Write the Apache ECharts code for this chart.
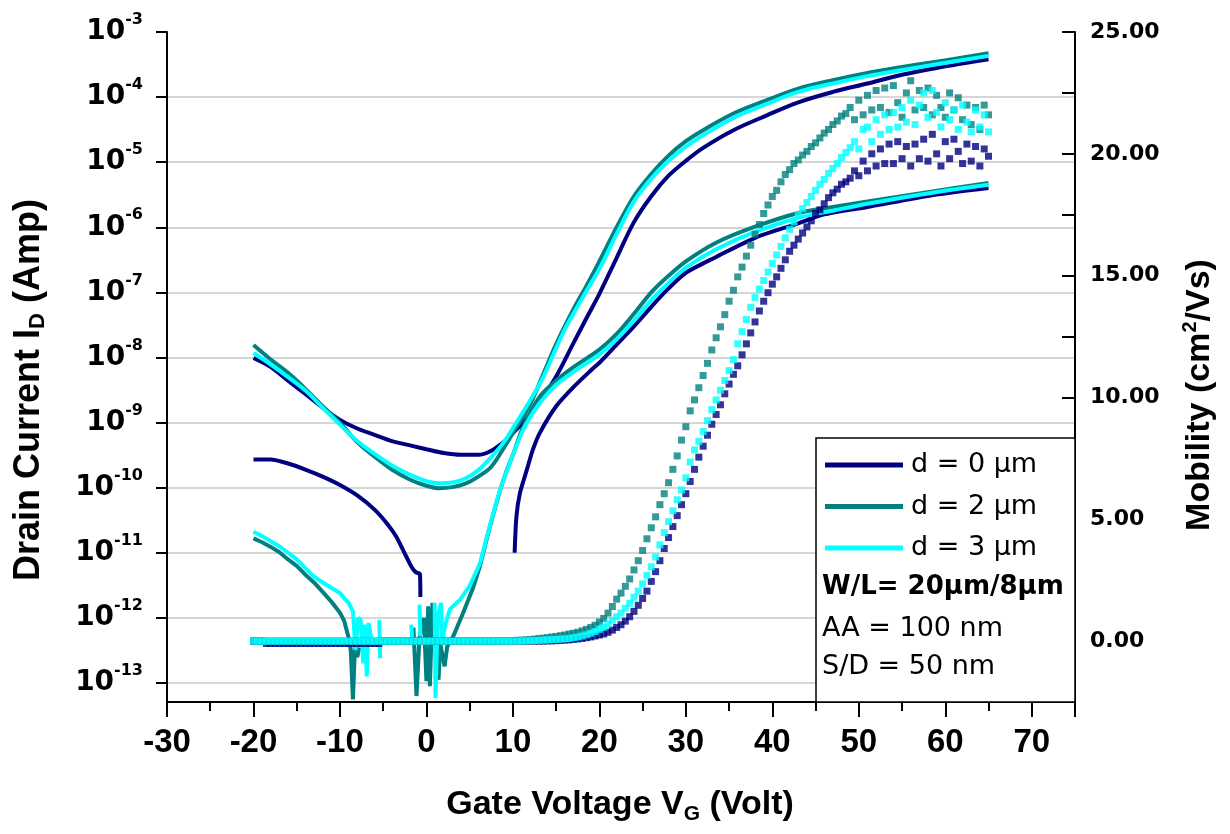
<!DOCTYPE html>
<html><head><meta charset="utf-8">
<script src="https://cdn.jsdelivr.net/npm/echarts@6/dist/echarts.min.js"></script>
<style>html,body{margin:0;padding:0;background:#fff}#c{width:1230px;height:834px}</style>
</head><body><div id="c"></div>
<script>
// ---------------- data ----------------
const SERIES_NAMES = ['d = 0 μm', 'd = 2 μm', 'd = 3 μm'];
const X_TICK_LABELS = [-30, -20, -10, 0, 10, 20, 30, 40, 50, 60, 70];
const Y_TICKS = [1e-13, 1e-12, 1e-11, 1e-10, 1e-9, 1e-8, 1e-7, 1e-6, 1e-5, 1e-4, 1e-3];
const Y_MIN = 5.1e-14, Y_MAX = 1e-3;       // drain current axis (log)
const MU_MIN = -2.5, MU_MAX = 25;           // mobility axis
const NOISE_END = 6.2;                      // VG where the noisy low-VD part ends

// high-VD transfer curves (upper)
const VG_UP0 = [-20,-18,-16,-14,-12,-10,-8,-6,-4,-2,0,2,4,6,7.5,9,10,11.5,13,15,17,18.5,20,22,24,26,28,30,32,35.5,39.3,43,47,51,55,59,65];
const ID_UP0 = [9.8e-9,7.1e-9,4.4e-9,2.75e-9,1.7e-9,1.1e-9,8.1e-10,6.5e-10,5.2e-10,4.5e-10,3.9e-10,3.4e-10,3.2e-10,3.2e-10,3.7e-10,5.1e-10,6.9e-10,1.12e-9,2.0e-9,5.1e-9,1.66e-8,4.0e-8,9.5e-8,3.4e-7,1.2e-6,3.0e-6,6.2e-6,1.05e-5,1.66e-5,3.1e-5,5.2e-5,8.3e-5,1.2e-4,1.62e-4,2.2e-4,2.8e-4,3.8e-4];
const VG_UP2 = [-20,-18,-16,-14,-12,-10,-8,-6,-4,-2,0,1.5,3,4.5,6,7.5,9,10.5,12,13.5,15,17,18.5,20,22,24,26,28,30,32,35.5,39.3,43,47,51,55,59,65];
const ID_UP2 = [1.55e-8,9.3e-9,5.8e-9,3.3e-9,1.78e-9,1.0e-9,5.0e-10,3.0e-10,1.9e-10,1.35e-10,1.07e-10,9.8e-11,1.02e-10,1.15e-10,1.48e-10,2.1e-10,4.2e-10,8.9e-10,1.9e-9,5.5e-9,1.6e-8,5.5e-8,1.26e-7,3.0e-7,1.0e-6,3.0e-6,6.6e-6,1.26e-5,2.1e-5,3.1e-5,5.6e-5,8.9e-5,1.35e-4,1.82e-4,2.35e-4,2.9e-4,3.5e-4,4.7e-4];
const VG_UP3 = [-20,-18,-16,-14,-12,-10,-8,-6,-4,-2,0,1.5,3,4.5,6,7.5,9,10.5,12,13.5,15,16,17,18.5,20,22,24,26,28,30,32,35.5,39.3,43,47,51,55,59,65];
const ID_UP3 = [1.17e-8,7.8e-9,5.0e-9,3.1e-9,1.7e-9,9.3e-10,5.2e-10,3.3e-10,2.2e-10,1.6e-10,1.26e-10,1.17e-10,1.2e-10,1.38e-10,1.86e-10,2.95e-10,5.1e-10,1.05e-9,2.2e-9,5.0e-9,1.4e-8,2.7e-8,4.7e-8,1.05e-7,2.3e-7,7.9e-7,2.5e-6,5.6e-6,1.05e-5,1.74e-5,2.6e-5,4.8e-5,7.8e-5,1.2e-4,1.62e-4,2.1e-4,2.6e-4,3.2e-4,4.3e-4];

// low-VD transfer curves (lower), null = gap
const VG_LO0 = [-20,-18,-16,-14,-12,-10,-8,-6,-4.5,-3.5,-2.7,-1.7,-1.2,-0.75,-0.7,0,10.2,10.4,10.8,11.6,12.3,13.1,15,17,19,20,22,24,26,28,30,33.5,38,43,46,51,58.5,65];
const ID_LO0 = [2.7e-10,2.7e-10,2.35e-10,1.9e-10,1.48e-10,1.1e-10,7.6e-11,4.6e-11,2.75e-11,1.78e-11,1.1e-11,6.0e-12,5.0e-12,4.7e-12,2.1e-12,null,1.0e-11,3.5e-11,8.1e-11,1.86e-10,3.8e-10,6.9e-10,1.78e-9,3.5e-9,6.3e-9,8.3e-9,1.58e-8,3.0e-8,6.0e-8,1.15e-7,2.0e-7,3.5e-7,6.9e-7,1.15e-6,1.58e-6,2.05e-6,3.1e-6,4.0e-6];
const VG_LO2 = [-20,-19,-18,-17,-16,-15,-14,-13,-12,-11,-10,-9.5,-9,-8.75,-8.5,-8.25,-8,-7.75,-7.5,-1.5,-1.15,-0.8,-0.3,0,0.2,0.4,0.7,1.4,1.6,2.1,2.4,3.1,4.25,5.4,6.2,7.3,8.5,9.3,10,11.2,13.1,15,17,20,22,24,26,28,30,33.5,38,43,47,51,58.5,65];
const ID_LO2 = [1.66e-11,1.45e-11,1.23e-11,1.02e-11,7.9e-12,6.3e-12,4.6e-12,3.5e-12,2.5e-12,1.78e-12,1.2e-12,8.9e-13,5.0e-13,3.2e-13,5.6e-14,4.0e-13,2.5e-13,3.5e-13,null,7.1e-13,6.3e-14,5.0e-13,1.0e-12,1.07e-13,1.5e-12,8.9e-14,1.7e-12,1.12e-13,4.0e-13,1.8e-13,3.6e-13,5.2e-13,1.2e-12,2.9e-12,6.3e-12,2.4e-11,8.9e-11,1.86e-10,3.2e-10,8.7e-10,2.5e-9,4.4e-9,7.1e-9,1.32e-8,2.3e-8,4.7e-8,1.0e-7,1.8e-7,3.0e-7,5.8e-7,1.02e-6,1.66e-6,2.05e-6,2.5e-6,3.55e-6,4.8e-6];
const VG_LO3 = [-20,-19,-18,-17,-16,-15,-14,-13,-12,-11,-10,-9.5,-9,-8.5,-8.2,-7.9,-7.6,-7.3,-7.1,-6.9,-6.7,-6.4,-6,-5.45,-5.35,-5.2,-1.75,-1.65,-1.5,-0.8,-0.7,-0.5,0.95,1.05,1.3,1.7,1.8,2.2,2.7,3.9,5.0,6.2,7.3,8.5,9.6,11.2,13.1,15,17,20,22,24,26,28,30,33.5,38,43,47,51,58.5,65];
const ID_LO3 = [2.1e-11,1.8e-11,1.5e-11,1.26e-11,1.0e-11,7.9e-12,5.8e-12,4.3e-12,3.5e-12,2.9e-12,2.4e-12,2.0e-12,1.7e-12,1.26e-12,3.2e-13,1.0e-12,9.3e-13,2.0e-13,7.9e-13,1.26e-13,8.3e-13,5.0e-13,null,9.3e-13,2.4e-13,null,7.9e-13,4.7e-13,null,1.6e-12,5.2e-13,null,1.7e-12,5.9e-14,1.0e-12,1.7e-12,4.2e-13,8.0e-13,1.35e-12,1.9e-12,3.1e-12,6.9e-12,2.5e-11,9.1e-11,2.3e-10,7.8e-10,2.0e-9,3.8e-9,6.0e-9,1.12e-8,1.9e-8,3.7e-8,7.6e-8,1.4e-7,2.4e-7,4.6e-7,8.5e-7,1.4e-6,1.8e-6,2.3e-6,3.4e-6,4.5e-6];

// mobility (cm^2/Vs)
const MOB_VG = [-20,-19.5,-19,-18.5,-18,-17.5,-17,-16.5,-16,-15.5,
-15,-14.5,-14,-13.5,-13,-12.5,-12,-11.5,-11,-10.5,
-10,-9.5,-9,-8.5,-8,-7.5,-7,-6.5,-6,-5.5,
-5,-4.5,-4,-3.5,-3,-2.5,-2,-1.5,-1,-0.5,
0,0.5,1,1.5,2,2.5,3,3.5,4,4.5,
5,5.5,6,6.5,7,7.5,8,8.5,9,9.5,
10,10.5,11,11.5,12,12.5,13,13.5,14,14.5,
15,15.5,16,16.5,17,17.5,18,18.5,19,19.5,
20,20.5,21,21.5,22,22.5,23,23.5,24,24.5,
25,25.5,26,26.5,27,27.5,28,28.5,29,29.5,
30,30.5,31,31.5,32,32.5,33,33.5,34,34.5,
35,35.5,36,36.5,37,37.5,38,38.5,39,39.5,
40,40.5,41,41.5,42,42.5,43,43.5,44,44.5,
45,45.5,46,46.5,47,47.5,48,48.5,49,49.5,
50,50.5,51,51.5,52,52.5,53,53.5,54,54.5,
55,55.5,56,56.5,57,57.5,58,58.5,59,59.5,
60,60.5,61,61.5,62,62.5,63,63.5,64,64.5,
65];
const MOB_D0 = [0,0,0,-0.1,-0.1,-0.1,-0.1,-0.1,-0.1,-0.1,
-0.1,-0.1,-0.1,-0.1,-0.1,-0.1,-0.1,-0.1,-0.1,-0.1,
-0.1,-0.1,-0.1,-0.1,-0.1,-0.1,-0.1,-0.1,-0.1,-0.1,
0,0,0,0,0,0,0,0,0,0,
0,0,0,0,0,0,0,0,0,0,
0,0,0,0,0,0,0,0,0,0,
0,0,0,0,0,0,0,0,0.01,0.01,
0.02,0.03,0.04,0.05,0.07,0.09,0.11,0.14,0.17,0.21,
0.25,0.29,0.36,0.45,0.56,0.67,0.82,1.0,1.22,1.47,
1.75,2.05,2.45,2.85,3.3,3.8,4.25,4.7,5.15,5.6,
6.05,6.55,7.05,7.55,8.0,8.45,8.9,9.3,9.7,10.15,
10.55,10.95,11.3,11.75,12.2,12.65,13.1,13.55,13.95,14.3,
14.65,14.95,15.3,15.65,16.0,16.25,16.5,16.75,17.0,17.25,
17.55,17.7,17.95,18.2,18.4,18.55,18.75,18.85,19.0,19.3,
19.1,19.7,19.3,20.0,19.5,20.2,19.6,20.4,19.6,20.5,
19.8,20.3,19.5,20.4,19.8,20.6,19.7,20.8,20.0,19.5,
20.5,19.8,20.6,20.1,19.6,20.4,19.7,20.3,19.5,20.2,
19.9];
const MOB_D2 = [0,0,0,0,0,0,0,0,0,0,
0,0,0,0,0,0,0,0,0,0,
0,0,0,0,0,0,0,0,0,0,
0,0,0,0,0,0,0,0,0,0,
0,0,0,0,0,0,0,0,0,0,
0,0,0,0,0,0,0,0,0,0,
0.02,0.03,0.04,0.05,0.06,0.08,0.1,0.12,0.14,0.17,
0.19,0.22,0.25,0.29,0.32,0.36,0.42,0.48,0.56,0.65,
0.78,0.93,1.15,1.42,1.72,1.97,2.25,2.55,2.92,3.3,
3.72,4.2,4.65,5.1,5.6,6.05,6.5,7.05,7.6,8.25,
8.8,9.45,9.9,10.4,10.9,11.4,11.95,12.45,12.9,13.4,
13.95,14.4,14.95,15.35,15.8,16.25,16.7,17.1,17.55,17.9,
18.25,18.5,18.85,19.15,19.35,19.6,19.75,19.95,20.1,20.3,
20.45,20.65,20.85,21.0,21.2,21.35,21.55,21.65,21.9,21.4,
22.2,21.6,22.4,21.8,22.6,21.9,22.7,21.7,22.8,22.1,
21.5,22.5,23.0,21.8,22.6,21.9,22.7,21.6,22.4,21.9,
21.5,22.5,21.8,22.3,21.4,22.0,21.2,21.9,21.0,22.0,
21.6];
const MOB_D3 = [0,0,0,0,0,0,0,0,0,0,
0,0,0,0,0,0,0,0,0,0,
0,0,0,0,0,0,0,0,0,0,
0,0,0,0,0,0,0,0,0,0,
0,0,0,0,0,0,0,0,0,0,
0,0,0,0,0,0,0,0,0,0,
0,0,0.01,0.01,0.02,0.02,0.03,0.04,0.05,0.06,
0.07,0.08,0.09,0.11,0.14,0.17,0.21,0.26,0.32,0.39,
0.48,0.57,0.7,0.85,1.0,1.15,1.35,1.55,1.8,2.05,
2.35,2.7,3.05,3.45,3.95,4.45,4.9,5.35,5.8,6.2,
6.7,7.35,7.85,8.2,8.6,9.05,9.5,9.9,10.3,10.7,
11.1,11.55,12.2,12.7,13.2,13.7,14.1,14.45,14.8,15.15,
15.5,15.85,16.2,16.55,16.9,17.2,17.5,17.75,18.0,18.25,
18.5,18.75,18.95,19.2,19.4,19.6,19.85,20.05,20.25,20.5,
20.2,21.0,21.1,20.5,21.4,20.8,21.6,21.0,21.7,21.1,
21.9,21.3,22.2,21.2,22.0,22.5,21.5,22.6,21.7,21.1,
22.1,21.4,21.8,21.0,22.0,21.3,20.9,21.8,21.1,21.6,
20.9];

// ---------------- chart ----------------
const C0 = '#000080', C2 = '#008080', C3 = '#00FFFF';
const FONT = 'DejaVu Sans';
const pairs = (xs, ys) => xs.map((x, i) => [x, ys[i]]);
const part = (xs, ys, test) => pairs(xs, ys).filter(p => test(p[0]));

function lineSeries(name, color, data, smooth) {
  return { name, type: 'line', z: 3, xAxisIndex: 0, yAxisIndex: 0, data,
    showSymbol: false, symbol: 'none', smooth: smooth, connectNulls: false,
    lineStyle: { color, width: 4 }, itemStyle: { color }, emphasis: { disabled: true }, silent: true };
}
function mobSeries(name, color, ys) {
  return { name, type: 'scatter', z: 3, xAxisIndex: 0, yAxisIndex: 1, data: pairs(MOB_VG, ys),
    symbol: 'rect', symbolSize: 7, itemStyle: { color }, emphasis: { disabled: true }, silent: true };
}
const noisy = v => v <= NOISE_END, clean = v => v >= NOISE_END;

const chart = echarts.init(document.getElementById('c'));
const option = {
  animation: false,
  backgroundColor: '#fff',
  textStyle: { fontFamily: FONT },
  grid: { left: 167, right: 155, top: 32, bottom: 132, containLabel: false },
  legend: {
    orient: 'vertical', left: 820, top: 445, z: 6, itemWidth: 78, itemHeight: 5, itemGap: 11.5,
    icon: 'rect', selectedMode: false, data: SERIES_NAMES,
    textStyle: { fontFamily: FONT, fontSize: 27, color: '#000', lineHeight: 30, padding: [0, 0, 0, 3] }
  },
  xAxis: [
    { type: 'value', min: -30, max: 75, interval: 10, position: 'bottom',
      axisLine: { show: true, onZero: false, lineStyle: { color: '#000', width: 2 } },
      axisTick: { show: true, inside: false, length: 15, lineStyle: { color: '#000', width: 2 } },
      axisLabel: { margin: 24, color: '#000', fontFamily: 'Liberation Sans', fontWeight: 'bold', fontSize: 33,
        formatter: v => (X_TICK_LABELS.indexOf(v) >= 0 ? String(v) : '') },
      splitLine: { show: false } },
    { type: 'value', min: -30, max: 75, interval: 5, position: 'bottom',
      axisLine: { show: false, onZero: false },
      axisTick: { show: true, inside: false, length: 9, lineStyle: { color: '#000', width: 2 } },
      axisLabel: { show: false }, splitLine: { show: false } }
  ],
  yAxis: [
    { type: 'log', logBase: 10, min: Y_MIN, max: Y_MAX, position: 'left',
      axisLine: { show: true, onZero: false, lineStyle: { color: '#000', width: 2 } },
      axisTick: { show: true, inside: false, length: 11, customValues: Y_TICKS, lineStyle: { color: '#000', width: 2 } },
      axisLabel: { margin: 24, color: '#000', customValues: Y_TICKS,
        formatter: v => { const e = Math.log10(v), r = Math.round(e);
          if (Math.abs(e - r) > 0.01) return ''; return '{b|10}{s|' + r + '}'; },
        rich: {
          b: { fontFamily: FONT, fontWeight: 'bold', fontSize: 28, lineHeight: 40, color: '#000' },
          s: { fontFamily: FONT, fontWeight: 'bold', fontSize: 16, lineHeight: 18, verticalAlign: 'top', color: '#000' }
        } },
      splitLine: { show: true, showMinLine: true, showMaxLine: false, lineStyle: { color: '#c8c8c8', width: 1.5 } } },
    { type: 'value', min: MU_MIN, max: MU_MAX, interval: 2.5, position: 'right',
      axisLine: { show: true, onZero: false, lineStyle: { color: '#000', width: 2 } },
      axisTick: { show: true, inside: true, length: 13, lineStyle: { color: '#000', width: 2 } },
      axisLabel: { margin: 15, color: '#000', fontFamily: FONT, fontWeight: 'bold', fontSize: 22,
        formatter: v => (Math.abs(v % 5) < 1e-9 ? v.toFixed(2) : '') },
      splitLine: { show: false } }
  ],
  series: [
    lineSeries(SERIES_NAMES[0], C0, pairs(VG_UP0, ID_UP0), 0.35),
    lineSeries(SERIES_NAMES[0], C0, pairs(VG_LO0, ID_LO0), 0.25),
    mobSeries(SERIES_NAMES[0], C0, MOB_D0),
    lineSeries(SERIES_NAMES[1], C2, pairs(VG_UP2, ID_UP2), 0.35),
    lineSeries(SERIES_NAMES[1], C2, part(VG_LO2, ID_LO2, noisy), false),
    lineSeries(SERIES_NAMES[1], C2, part(VG_LO2, ID_LO2, clean), 0.3),
    mobSeries(SERIES_NAMES[1], C2, MOB_D2),
    lineSeries(SERIES_NAMES[2], C3, pairs(VG_UP3, ID_UP3), 0.35),
    lineSeries(SERIES_NAMES[2], C3, part(VG_LO3, ID_LO3, noisy), false),
    lineSeries(SERIES_NAMES[2], C3, part(VG_LO3, ID_LO3, clean), 0.3),
    mobSeries(SERIES_NAMES[2], C3, MOB_D3)
  ],
  graphic: { elements: [
    { type: 'rect', z: 4, shape: { x: 816, y: 438, width: 259, height: 264 },
      style: { fill: '#fff', stroke: '#000', lineWidth: 1.5 } },
    { type: 'text', z: 7, x: 822, y: 587, style: { text: 'W/L= 20μm/8μm', font: 'bold 26px "DejaVu Sans"', fill: '#000', textVerticalAlign: 'middle', verticalAlign: 'middle' } },
    { type: 'text', z: 7, x: 822, y: 629, style: { text: 'AA = 100 nm', font: '27px "DejaVu Sans"', fill: '#000', textVerticalAlign: 'middle', verticalAlign: 'middle' } },
    { type: 'text', z: 7, x: 822, y: 667, style: { text: 'S/D = 50 nm', font: '27px "DejaVu Sans"', fill: '#000', textVerticalAlign: 'middle', verticalAlign: 'middle' } },
    { type: 'text', z: 7, x: 29, y: 390, rotation: Math.PI / 2,
      style: { text: '{a|Drain Current I}{d|D}{a| (Amp)}', fill: '#000',
        textAlign: 'center', align: 'center', textVerticalAlign: 'middle', verticalAlign: 'middle',
        rich: { a: { font: 'bold 36px "Liberation Sans"', lineHeight: 40, fill: '#000' },
                d: { font: 'bold 22px "Liberation Sans"', lineHeight: 22, verticalAlign: 'bottom', fill: '#000' } } } },
    { type: 'text', z: 7, x: 1200, y: 395, rotation: Math.PI / 2,
      style: { text: '{a|Mobility (cm}{s|2}{a|/Vs)}', fill: '#000',
        textAlign: 'center', align: 'center', textVerticalAlign: 'middle', verticalAlign: 'middle',
        rich: { a: { font: 'bold 34px "Liberation Sans"', lineHeight: 40, fill: '#000' },
                s: { font: 'bold 20px "Liberation Sans"', lineHeight: 20, verticalAlign: 'top', fill: '#000' } } } },
    { type: 'text', z: 7, x: 620, y: 805,
      style: { text: '{a|Gate Voltage V}{d|G}{a| (Volt)}', fill: '#000',
        textAlign: 'center', align: 'center', textVerticalAlign: 'middle', verticalAlign: 'middle',
        rich: { a: { font: 'bold 34px "Liberation Sans"', lineHeight: 40, fill: '#000' },
                d: { font: 'bold 21px "Liberation Sans"', lineHeight: 21, verticalAlign: 'bottom', fill: '#000' } } } }
  ] }
};
chart.setOption(option);
</script>
</body></html>
